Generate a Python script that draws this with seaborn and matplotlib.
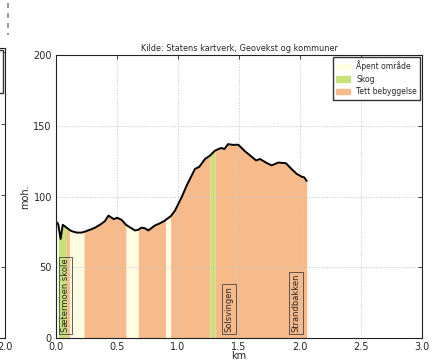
import numpy as np
import pandas as pd
import matplotlib
matplotlib.use('Agg')
import matplotlib.pyplot as plt
from matplotlib.patches import Patch
from matplotlib.lines import Line2D
import seaborn as sns

# hoydeprofil (km, moh.)
dist = [0.011, 0.019, 0.038, 0.055, 0.087, 0.11, 0.128, 0.17, 0.21, 0.23,
        0.279, 0.32, 0.36, 0.40, 0.43, 0.456, 0.475, 0.50, 0.538, 0.574,
        0.61, 0.648, 0.675, 0.70, 0.73, 0.757, 0.81, 0.85, 0.893, 0.899,
        0.94, 0.975, 1.03, 1.071, 1.112, 1.139, 1.175, 1.221, 1.262, 1.303,
        1.344, 1.358, 1.38, 1.41, 1.45, 1.494, 1.55, 1.617, 1.64, 1.672,
        1.727, 1.768, 1.822, 1.885, 1.93, 1.973, 2.014, 2.035, 2.055]
hoyde = [81.5, 80, 70, 80, 78, 76.5, 75.5, 74.5, 74.5, 75,
         76.5, 78, 80, 82.5, 86.5, 85, 84, 85, 83.5, 80,
         78, 76, 76.5, 78, 77.5, 76, 79.5, 81, 83, 83.5,
         86, 90, 99.5, 107.7, 114.8, 119.5, 121, 126.5, 128.9, 132.4,
         134, 134.3, 133.5, 137, 136.5, 136.6, 131.9, 127.2, 125.5, 126.5,
         123.7, 122, 124, 123.5, 119.5, 116, 114, 113.5, 111]

# arealbruk langs profilen
seg_start = [0.019, 0.087, 0.11, 0.23, 0.574, 0.675, 0.899, 0.94, 1.262, 1.303]
seg_slutt = [0.087, 0.11, 0.23, 0.574, 0.675, 0.899, 0.94, 1.262, 1.303, 2.055]
seg_klasse = ['Skog', 'Tett bebyggelse', 'Åpent område', 'Tett bebyggelse',
              'Åpent område', 'Tett bebyggelse', 'Åpent område',
              'Tett bebyggelse', 'Skog', 'Tett bebyggelse']

klasser = ['Åpent område', 'Skog', 'Tett bebyggelse']
farger = {'Åpent område': '#fefde2', 'Skog': '#c8e17a', 'Tett bebyggelse': '#f7ba8b'}

# stoppesteder
stopp_navn = ['Sætermoen skole', 'Solsvingen', 'Strandbakken']
stopp_km = [0.08, 1.418, 1.967]

sns.set_style('white')
plt.rcParams['font.family'] = ['DejaVu Sans']
plt.rcParams['xtick.direction'] = 'in'
plt.rcParams['ytick.direction'] = 'in'

df = pd.DataFrame({'km': dist, 'moh': hoyde})
x = df['km'].values
y = df['moh'].values

fig = plt.figure(figsize=(4.42, 3.6), dpi=100)

# rest av naboplott til venstre (utenfor bildet)
ax0 = fig.add_axes([-0.8, 0.0611, 0.8113, 0.8056])
ax0.set_xlim(0, 2.0)
ax0.set_ylim(0, 203)
ax0.set_yticks([0, 50, 100, 150, 200])
ax0.set_xticks([2.0])
ax0.set_xticklabels(['2.0'])
ax0.set_yticklabels([])
ax0.tick_params(labelsize=7, right=True, length=3, width=0.6, pad=3)
for s in ax0.spines.values():
    s.set_color('#222222')
    s.set_linewidth(0.8)
ax0.legend(handles=[Patch(color=farger[k], label=k) for k in klasser],
           loc='upper right', fontsize=5.5, fancybox=False, framealpha=1,
           edgecolor='#333333', borderaxespad=0.25)

fig.add_artist(Line2D([8 / 442, 8 / 442], [1 - 3 / 360, 1 - 35 / 360],
                      transform=fig.transFigure, color='#888888', lw=1.2,
                      ls=(0, (3, 3))))

ax = fig.add_axes([56 / 442, 0.0611, 366 / 442, 0.7861])

for a, b, k in zip(seg_start, seg_slutt, seg_klasse):
    m = (x >= a) & (x <= b)
    ax.fill_between(x[m], 0, y[m], color=farger[k], lw=0, zorder=0.5)

sns.lineplot(data=df, x='km', y='moh', color='black', lw=1.4, ax=ax, zorder=4)

for navn, km in zip(stopp_navn, stopp_km):
    ax.text(km, 4, navn, rotation=90, ha='center', va='bottom', fontsize=6,
            zorder=5, bbox=dict(boxstyle='square,pad=0.25', fc='none',
                                ec='#444444', lw=0.6))

ax.set_xlim(0, 3.0)
ax.set_ylim(0, 200)
ax.set_xticks([0, 0.5, 1.0, 1.5, 2.0, 2.5, 3.0])
ax.set_yticks([0, 50, 100, 150, 200])
ax.set_xticklabels(['0.0', '0.5', '1.0', '1.5', '2.0', '2.5', '3.0'])
ax.tick_params(labelsize=7, top=True, right=True, length=3, width=0.6, pad=3)
ax.set_axisbelow('line')
ax.grid(True, ls=':', color='#c4c4c4', lw=0.7)
for s in ax.spines.values():
    s.set_color('#222222')
    s.set_linewidth(0.8)
    s.set_zorder(6)
ax.set_xlabel('km', fontsize=7, labelpad=-1)
ax.set_ylabel('moh.', fontsize=7, labelpad=2)
ax.set_title('Kilde: Statens kartverk, Geovekst og kommuner', fontsize=5.9, pad=3)

ax.legend(handles=[Patch(color=farger[k], label=k) for k in klasser],
          loc='upper right', fontsize=5.5, fancybox=False, framealpha=1,
          edgecolor='#333333', borderaxespad=0.25, handlelength=1.8)

fig.savefig('out.png', dpi=100)
